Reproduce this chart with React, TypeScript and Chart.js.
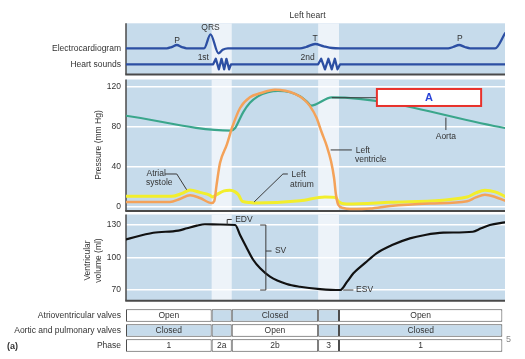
import React, { useEffect, useRef } from "react";
import { Chart, registerables } from "chart.js";

Chart.register(...registerables);

const FONT = "'Liberation Sans', Arial, Helvetica, sans-serif";
const TEXT = "#333333";
const PANEL = "#c6dbeb";
const BAND = "#edf3f9";
const EDGE = "#4a4a4a";

// ---------------- data (time axis: 0..100 = one cardiac cycle shown) ----------------
const phaseNames = ["1", "2a", "2b", "3", "1"];
const phaseEdges = [0, 22.6, 27.9, 50.7, 56.2, 99.3];
const isovolumicPhases = [1, 3];
const tableRows = ["Atrioventricular valves", "Aortic and pulmonary valves", "Phase"];
const avValveState = ["Open", "", "Closed", "", "Open"];
const semilunarValveState = ["Closed", "", "Open", "", "Closed"];

const traceNames = ["Electrocardiogram", "Heart sounds"];
const traceBaselines = [0, -16];

const ecgT = [0, 10.8, 12.0, 13.4, 14.8, 16.0, 20.6, 22.3, 24.4, 25.5, 26.9, 45.9, 47.5, 49.9, 52.2, 54.4, 56.5, 85.0, 86.3, 87.9, 89.4, 90.8, 97.4, 100];
const ecgV = [0, 0, 1.2, 3.3, 1.2, 0, 0, 14, -5, -1.5, 0, 0, 1.3, 4.3, 2, 0.3, 0, 0, 1.3, 3.3, 1.3, 0, 0, 15];

const soundT = [0, 23.0, 23.7, 24.5, 25.2, 25.9, 26.5, 27.2, 27.7, 50.7, 51.5, 52.5, 53.4, 54.3, 55.1, 55.8, 56.5, 100];
const soundV = [-16, -16, -10.5, -21, -10.5, -21, -10.5, -21, -16, -16, -10.5, -21, -10.5, -21, -10.5, -21, -16, -16];

const aortaT = [0, 27.7, 28.8, 29.7, 30.9, 32.7, 34.8, 37.5, 40.1, 43.3, 45.9, 47.8, 48.8, 54.3, 100];
const aortaP = [90.7, 76, 78.5, 85, 94, 103.5, 110, 114, 115.3, 114, 110, 104.5, 100.8, 109, 78.5];

const lvT = [0, 11.6, 14.2, 16.9, 19.5, 22.6, 23.3, 23.9, 24.8, 26.6, 28.0, 30.1, 32.7, 35.4, 39.3, 44.6, 47.2, 48.5, 50.3, 51.6, 53.0, 54.1, 54.9, 55.4, 56.0, 57.3, 59.1, 64.4, 69.7, 80.2, 90.0, 92.3, 94.7, 97.4, 100];
const lvP = [5, 5, 8, 11.6, 9, 4, 6, 22, 43.7, 62, 79, 98.4, 109, 113, 116.5, 112.5, 106, 100.5, 88.5, 74.5, 60.3, 45.4, 28.8, 12.2, 2.3, -1, -2, -1.5, 1, 3.5, 5.7, 9.5, 12.2, 10, 6.3];

const laT = [0, 12.1, 14.8, 16.9, 19.5, 22.2, 22.8, 24.0, 25.9, 27.4, 28.8, 29.7, 30.7, 32.7, 34.0, 45.9, 52.5, 55.4, 56.0, 58.2, 69.7, 90.0, 92.3, 94.7, 97.4, 100];
const laP = [10.6, 10.6, 13.5, 16.9, 14.5, 11.6, 10, 12.5, 16, 16.6, 15, 12, 5.5, 4.5, 4, 6.3, 10, 9.5, 5.6, 3, 4.7, 10, 14, 16.6, 15, 10.6];

const volT = [0, 7.2, 13.8, 16.1, 18.7, 20.8, 24.8, 28.8, 30.1, 31.7, 33.6, 35.4, 38.0, 42.4, 45.9, 51.2, 56.5, 58.3, 60.0, 63.1, 66.1, 70.2, 74.9, 78.9, 83.7, 91.5, 93.7, 96.0, 100];
const volV = [116.8, 122.9, 124.8, 127, 129.4, 130.7, 130.5, 130, 120.8, 110, 97.7, 90, 82.3, 75.5, 73, 70.9, 70, 77.5, 85.4, 95, 103.9, 111.5, 117.7, 120.8, 122.9, 123.8, 127, 130, 132.5];

const pressureTicks = [0, 40, 80, 120];
const volumeTicks = [70, 100, 130];

// ---------------- annotation placement (data units) ----------------
const panels = [
  { axis: "yTop", top: 25.0, bottom: -26.2 },
  { axis: "yP", top: 126.7, bottom: -4.0 },
  { axis: "yV", top: 139.7, bottom: 60.1 },
];

const notes = [
  { axis: "yTop", t: 13.5, v: 7.6, text: "P", align: "center" },
  { axis: "yTop", t: 22.3, v: 21, text: "QRS", align: "center" },
  { axis: "yTop", t: 49.9, v: 9.6, text: "T", align: "center" },
  { axis: "yTop", t: 88.1, v: 9.3, text: "P", align: "center" },
  { axis: "yTop", t: 20.4, v: -9, text: "1st", align: "center" },
  { axis: "yTop", t: 47.9, v: -9, text: "2nd", align: "center" },
  { axis: "yTop", t: 47.9, v: 32.3, text: "Left heart", align: "center" },
  { axis: "yP", t: 5.4, v: 33.1, text: "Atrial", align: "left" },
  { axis: "yP", t: 5.3, v: 23.9, text: "systole", align: "left" },
  { axis: "yP", t: 43.7, v: 32.1, text: "Left", align: "left" },
  { axis: "yP", t: 43.3, v: 22.2, text: "atrium", align: "left" },
  { axis: "yP", t: 60.6, v: 56.4, text: "Left", align: "left" },
  { axis: "yP", t: 60.4, v: 47.0, text: "ventricle", align: "left" },
  { axis: "yP", t: 84.4, v: 69.9, text: "Aorta", align: "center" },
  { axis: "yV", t: 28.8, v: 135.1, text: "EDV", align: "left" },
  { axis: "yV", t: 39.3, v: 106, text: "SV", align: "left" },
  { axis: "yV", t: 60.7, v: 70, text: "ESV", align: "left" },
];

const leaders = [
  { axis: "yP", t: [10.3, 13.4, 16.0], v: [32.8, 32.8, 17.2] },
  { axis: "yP", t: [42.7, 41.4, 33.8], v: [32.8, 32.8, 5.0] },
  { axis: "yP", t: [54.0, 59.6], v: [56.7, 56.7] },
  { axis: "yP", t: [84.4, 84.4], v: [88.8, 76.5] },
  { axis: "yP", t: [54.3, 66.2], v: [108.6, 108.6] },
  { axis: "yV", t: [26.7, 26.7, 27.9], v: [130.5, 135.1, 135.1] },
  { axis: "yV", t: [35.4, 36.9, 36.9, 35.4], v: [130, 130, 70, 70] },
  { axis: "yV", t: [36.9, 38.4], v: [106, 106] },
  { axis: "yV", t: [57.3, 60.0], v: [70, 70] },
];

const answerBox = { axis: "yP", t0: 66.2, t1: 93.7, top: 117.3, bottom: 100.4, text: "A" };

// ---------------- helpers ----------------
const pts = (xs: number[], ys: number[]) => xs.map((x, i) => ({ x, y: ys[i] }));

const line = (label: string, xs: number[], ys: number[], axis: string, color: string, width: number, extra: any = {}) => ({
  type: "line",
  label,
  data: pts(xs, ys),
  xAxisID: "x",
  yAxisID: axis,
  borderColor: color,
  borderWidth: width,
  pointRadius: 0,
  fill: false,
  cubicInterpolationMode: "monotone",
  borderCapStyle: "round",
  borderJoinStyle: "round",
  ...extra,
});

const cellRow = (row: string, texts: string[], shaded: boolean[]) => ({
  type: "bar",
  label: row,
  indexAxis: "y",
  xAxisID: "x",
  yAxisID: "yTable",
  data: texts.map((_, i) => ({ x: [phaseEdges[i], phaseEdges[i + 1]], y: row })),
  backgroundColor: shaded.map((s) => (s ? PANEL : "#ffffff")),
  borderColor: "#4d4d4d",
  borderWidth: 1,
  borderSkipped: false,
  inflateAmount: 0,
  grouped: false,
  barPercentage: 0.83,
  categoryPercentage: 1,
  cellText: texts,
});

const PLOT_LEFT = 126;
const AXIS_W = 118;
const AXIS_LEFT = PLOT_LEFT - AXIS_W;
const fixAxis = (s: any) => {
  s.width = AXIS_W;
  s.paddingTop = 0;
  s.paddingBottom = 0;
};

const wiggersPlugin = {
  id: "wiggers",
  beforeDraw(chart: any) {
    const { ctx, chartArea: a, scales } = chart;
    ctx.save();
    ctx.fillStyle = "#ffffff";
    ctx.fillRect(0, 0, chart.width, chart.height);
    for (const p of panels) {
      const s = scales[p.axis];
      const y0 = s.getPixelForValue(p.top);
      const y1 = s.getPixelForValue(p.bottom);
      ctx.fillStyle = PANEL;
      ctx.fillRect(a.left, y0, a.right - a.left, y1 - y0);
      ctx.fillStyle = BAND;
      for (const bi of isovolumicPhases) {
        const xa = scales.x.getPixelForValue(phaseEdges[bi]);
        const xb = scales.x.getPixelForValue(phaseEdges[bi + 1]);
        ctx.fillRect(xa, y0, xb - xa, y1 - y0);
      }
    }
    ctx.restore();
  },
  beforeDatasetsDraw(chart: any) {
    const { ctx, chartArea: a, scales } = chart;
    ctx.save();
    ctx.strokeStyle = EDGE;
    for (const p of panels) {
      const s = scales[p.axis];
      const y0 = s.getPixelForValue(p.top);
      const y1 = s.getPixelForValue(p.bottom);
      ctx.lineWidth = 1.5;
      ctx.beginPath();
      ctx.moveTo(a.left, y0);
      ctx.lineTo(a.left, y1);
      ctx.stroke();
      ctx.lineWidth = 2;
      ctx.beginPath();
      ctx.moveTo(a.left - 0.75, y1);
      ctx.lineTo(a.right, y1);
      ctx.stroke();
    }
    ctx.restore();
  },
  afterDatasetsDraw(chart: any) {
    const { ctx, scales } = chart;
    const X = (t: number) => scales.x.getPixelForValue(t);
    ctx.save();
    // table cell texts
    ctx.font = `8.5px ${FONT}`;
    ctx.fillStyle = TEXT;
    ctx.textAlign = "center";
    ctx.textBaseline = "middle";
    chart.data.datasets.forEach((ds: any, di: number) => {
      if (!ds.cellText) return;
      const meta = chart.getDatasetMeta(di);
      meta.data.forEach((el: any, i: number) => {
        const { x, base, y } = el.getProps(["x", "base", "y"], true);
        const txt = ds.cellText[i];
        if (txt) ctx.fillText(txt, (x + base) / 2, y + 0.5);
      });
    });
    // leader lines
    ctx.strokeStyle = "#3a3a3a";
    ctx.lineWidth = 1;
    for (const l of leaders) {
      const s = scales[l.axis];
      ctx.beginPath();
      l.t.forEach((t, i) => {
        const x = X(t);
        const y = s.getPixelForValue(l.v[i]);
        if (i) ctx.lineTo(x, y);
        else ctx.moveTo(x, y);
      });
      ctx.stroke();
    }
    // answer box
    {
      const s = scales[answerBox.axis];
      const x0 = X(answerBox.t0), x1 = X(answerBox.t1);
      const y0 = s.getPixelForValue(answerBox.top), y1 = s.getPixelForValue(answerBox.bottom);
      ctx.fillStyle = "#ffffff";
      ctx.fillRect(x0, y0, x1 - x0, y1 - y0);
      ctx.strokeStyle = "#e8312b";
      ctx.lineWidth = 2;
      ctx.strokeRect(x0, y0, x1 - x0, y1 - y0);
      ctx.fillStyle = "#2a44d8";
      ctx.font = `bold 11px ${FONT}`;
      ctx.textAlign = "center";
      ctx.fillText(answerBox.text, (x0 + x1) / 2, (y0 + y1) / 2 + 0.5);
    }
    // text notes
    ctx.font = `8.5px ${FONT}`;
    ctx.fillStyle = TEXT;
    for (const n of notes) {
      const s = scales[n.axis];
      ctx.textAlign = n.align as CanvasTextAlign;
      ctx.fillText(n.text, X(n.t), s.getPixelForValue(n.v));
    }
    // figure marks
    ctx.textAlign = "left";
    ctx.font = `bold 9px ${FONT}`;
    ctx.fillText("(a)", 7, 347);
    ctx.font = `9px ${FONT}`;
    ctx.fillStyle = "#8a8a8a";
    ctx.fillText("5", 506, 340);
    ctx.restore();
  },
};

const tickFont = { family: FONT, size: 8.5 };

export default function App() {
  const ref = useRef<HTMLCanvasElement>(null);
  useEffect(() => {
    document.body.style.margin = "0";
    const datasets: any[] = [
      line("Electrocardiogram", ecgT, ecgV, "yTop", "#2c4fa3", 2.3),
      line("Heart sounds", soundT, soundV, "yTop", "#2c4fa3", 2.3, { cubicInterpolationMode: "default", tension: 0 }),
      line("Ventricular volume", volT, volV, "yV", "#111111", 2.2),
      line("Left ventricle", lvT, lvP, "yP", "#f4a259", 2.5),
      line("Aorta", aortaT, aortaP, "yP", "#3aa68b", 2.2),
      line("Left atrium", laT, laP, "yP", "#f2ee2c", 3),
      cellRow(tableRows[0], avValveState, avValveState.map((s) => s !== "Open")),
      cellRow(tableRows[1], semilunarValveState, semilunarValveState.map((s) => s !== "Open")),
      cellRow(tableRows[2], phaseNames, phaseNames.map(() => false)),
    ];
    const chart = new Chart(ref.current as HTMLCanvasElement, {
      type: "line",
      data: { datasets },
      options: {
        responsive: false,
        animation: false,
        events: [],
        layout: { padding: { left: AXIS_LEFT, right: 20, top: 23, bottom: 6 } },
        plugins: { legend: { display: false }, title: { display: false }, tooltip: { enabled: false } },
        elements: { point: { radius: 0 } },
        scales: {
          x: { type: "linear", min: 0, max: 100, display: false },
          yTop: {
            type: "linear", position: "left", stack: "main", stackWeight: 54, weight: 4,
            min: -28.7, max: 25.3,
            grid: { display: false, drawTicks: false }, border: { display: false },
            afterBuildTicks: (s: any) => { s.ticks = traceBaselines.map((v) => ({ value: v })); },
            ticks: {
              autoSkip: false, padding: 5, color: TEXT, font: tickFont,
              callback: (v: any) => { const i = traceBaselines.indexOf(Number(v)); return i >= 0 ? traceNames[i] : ""; },
            },
            afterFit: fixAxis,
          },
          yP: {
            type: "linear", position: "left", stack: "main", stackWeight: 136, weight: 3,
            min: -5.96, max: 129.2,
            grid: { color: "#ffffff", lineWidth: 1.5, drawTicks: false }, border: { display: false },
            afterBuildTicks: (s: any) => { s.ticks = pressureTicks.map((v) => ({ value: v })); },
            ticks: { autoSkip: false, padding: 5, color: TEXT, font: tickFont },
            title: { display: true, text: "Pressure (mm Hg)", color: TEXT, font: tickFont, padding: { top: 98.5 - AXIS_LEFT - 5.1, bottom: 0 } },
            afterFit: fixAxis,
          },
          yV: {
            type: "linear", position: "left", stack: "main", stackWeight: 95, weight: 2,
            min: 53.4, max: 141.1,
            grid: { color: "#ffffff", lineWidth: 1.5, drawTicks: false }, border: { display: false },
            afterBuildTicks: (s: any) => { s.ticks = volumeTicks.map((v) => ({ value: v })); },
            ticks: { autoSkip: false, padding: 5, color: TEXT, font: tickFont },
            title: { display: true, text: ["Ventricular", "volume (ml)"], color: TEXT, font: tickFont, padding: { top: 88 - AXIS_LEFT - 5.1, bottom: 0 } },
            afterFit: fixAxis,
          },
          yTable: {
            type: "category", labels: tableRows, offset: true, position: "left", stack: "main", stackWeight: 45, weight: 1,
            grid: { display: false, drawTicks: false }, border: { display: false },
            ticks: { autoSkip: false, padding: 5, color: TEXT, font: tickFont },
            afterFit: fixAxis,
          },
        },
      } as any,
      plugins: [wiggersPlugin],
    } as any);
    return () => chart.destroy();
  }, []);
  return (
    <div style={{ width: 525, height: 359 }}>
      <canvas ref={ref} width={525} height={359} style={{ display: "block" }} />
    </div>
  );
}
